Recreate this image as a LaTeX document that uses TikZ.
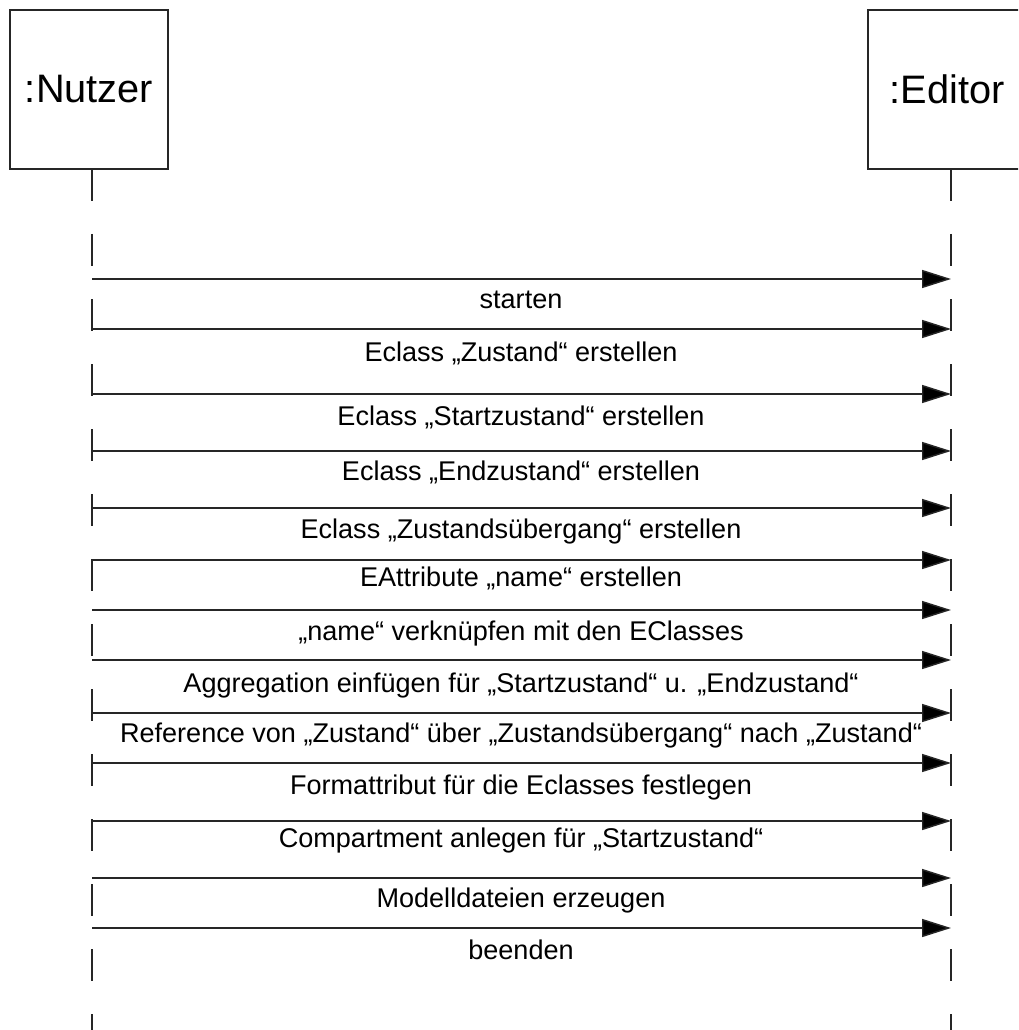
\documentclass[tikz,border=0pt]{standalone}
\usepackage{fontspec}
\setmainfont{Liberation Sans}
\usetikzlibrary{arrows.meta}
\begin{document}
\begin{tikzpicture}[x=0.75pt,y=-0.75pt,
  objbox/.style={draw=black!85,line width=1.1pt,minimum width=118.5pt,minimum height=119.25pt,inner sep=0pt,font=\fontsize{29.8}{34}\selectfont},
  lifeline/.style={draw=black!85,line width=1.1pt,dash pattern=on 24pt off 24.75pt},
  msg/.style={draw=black!85,line width=1.1pt,-{Triangle[length=21.75pt,width=13.5pt,fill=black]}},
  lbl/.style={anchor=base,inner sep=0pt,font=\fontsize{20.3}{24}\selectfont}]
\useasboundingbox (0,0) rectangle (1018,1030);
\clip (0,0) rectangle (1018,1030);
\fill[white] (0,0) rectangle (1018,1030);
% objects
\node[objbox] (nutzer) at (89,89.5) {:Nutzer};
\node[objbox] (editor) at (947,89.5) {:Editor};
% lifelines
\coordinate (nTop) at (92,169);
\coordinate (nBot) at (92,1030);
\coordinate (eTop) at (951,169);
\coordinate (eBot) at (951,1030);
\draw[lifeline] (nTop) -- (nBot);
\draw[lifeline] (eTop) -- (eBot);
% messages
\foreach \i/\y in {1/279,2/329,3/394,4/451,5/508,6/560,7/610,8/660,9/713,10/763,11/821,12/878,13/928}{
  \coordinate (n\i) at (92,\y);
  \coordinate (e\i) at (951,\y);
  \draw[msg] (n\i) -- (e\i);
}
% labels
\node[lbl] (l1) at (521,308) {starten};
\node[lbl] (l2) at (521,361) {Eclass „Zustand“ erstellen};
\node[lbl] (l3) at (521,425) {Eclass „Startzustand“ erstellen};
\node[lbl] (l4) at (521,480) {Eclass „Endzustand“ erstellen};
\node[lbl] (l5) at (521,538) {Eclass „Zustandsübergang“ erstellen};
\node[lbl] (l6) at (521,586) {EAttribute „name“ erstellen};
\node[lbl] (l7) at (521,640) {„name“ verknüpfen mit den EClasses};
\node[lbl] (l8) at (521,692) {Aggregation einfügen für „Startzustand“ u. „Endzustand“};
\node[lbl] (l9) at (521,742) {Reference von „Zustand“ über „Zustandsübergang“ nach „Zustand“};
\node[lbl] (l10) at (521,794) {Formattribut für die Eclasses festlegen};
\node[lbl] (l11) at (521,847) {Compartment anlegen für „Startzustand“};
\node[lbl] (l12) at (521,907) {Modelldateien erzeugen};
\node[lbl] (l13) at (521,959) {beenden};
\end{tikzpicture}
\end{document}
